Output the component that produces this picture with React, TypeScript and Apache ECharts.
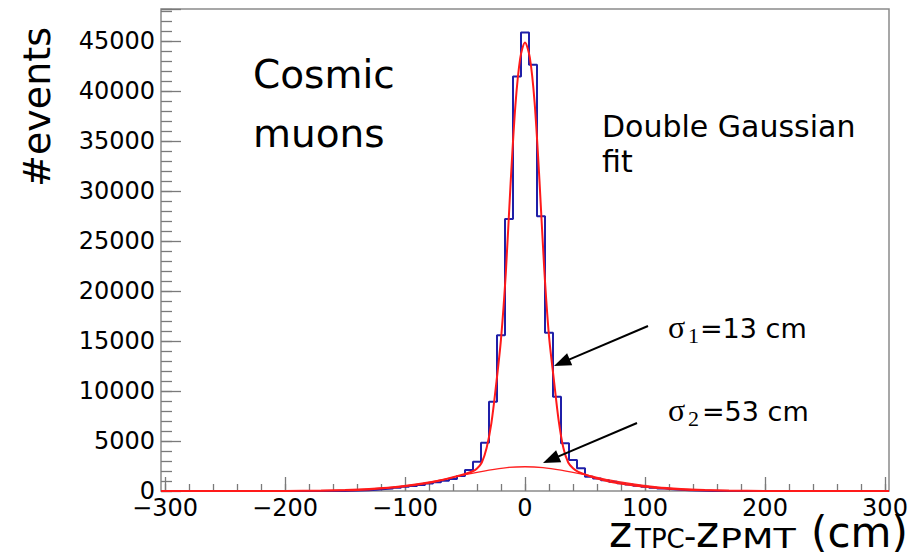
import React, { useEffect, useRef } from "react";
import * as echarts from "echarts";

// ---------- data ----------
const X_MIN = -303.33;
const X_MAX = 303.33;
const Y_MAX = 48250;
const BIN_WIDTH = 600 / 90; // 6.667 cm
const FIRST_BIN_CENTER = -300;

// histogram contents, bins centred at -300 ... +300 cm (91 bins)
const counts: number[] = [
  0, 0, 0, 0, 0, 0, 0, 0, 0, 0, 0, 0, 0, 0, 0, 0, 0, 0, 0, 0, 0, 0, 0,
  20, 50, 80, 120, 190, 250, 330, 420, 510, 610, 740, 880, 1020, 1200, 1500,
  2100, 2930, 4830, 8930, 15600, 27230, 41500,
  45900,
  42670, 27500, 15830, 9430, 4770, 3100, 2270, 1430, 1250, 1080, 930, 780,
  650, 530, 420, 330, 250, 180, 120, 80, 50, 25,
  0, 0, 0, 0, 0, 0, 0, 0, 0, 0, 0, 0, 0, 0, 0, 0, 0, 0, 0, 0, 0, 0, 0,
];

// double Gaussian fit (total)
const fitTotal: [number, number][] = [
  [-303.33, 0], [-250, 0], [-200, 8], [-170, 30], [-150, 70], [-130, 160],
  [-115, 290], [-100, 470], [-85, 720], [-70, 1080], [-60, 1370], [-50, 1700],
  [-44, 1950], [-40, 2250], [-36, 2850], [-32, 4300], [-28, 6800], [-24, 10700],
  [-20, 15200], [-16, 21800], [-12, 30800], [-8, 38600], [-4, 43300], [0, 44900],
  [4, 43400], [8, 38900], [12, 31200], [16, 22300], [20, 15500], [24, 11200],
  [28, 7100], [32, 4300], [36, 2850], [40, 2270], [44, 1950], [50, 1650],
  [60, 1250], [70, 960], [85, 660], [100, 430], [115, 270], [130, 150],
  [150, 70], [170, 30], [200, 8], [250, 0], [303.33, 0],
];

// wide Gaussian component (sigma2)
const fitWide: [number, number][] = [
  [-303.33, 0], [-250, 2], [-200, 18], [-170, 60], [-150, 125], [-130, 230],
  [-110, 400], [-90, 700], [-70, 1110], [-50, 1640], [-30, 2100], [-15, 2350],
  [0, 2430], [15, 2350], [30, 2100], [50, 1640], [70, 1110], [90, 700],
  [110, 400], [130, 230], [150, 125], [170, 60], [200, 18], [250, 2], [303.33, 0],
];

const X_TICK_MIN = -300;
const X_TICK_MAX = 300;
const X_MAJOR = 100;
const X_MINOR = 20;
const Y_MAJOR = 5000;
const Y_MINOR = 1000;

const SANS = "DejaVu Sans";
const SERIF = "Liberation Serif";

function histLine(): [number, number][] {
  const pts: [number, number][] = [];
  counts.forEach((v, i) => {
    const c = FIRST_BIN_CENTER + i * BIN_WIDTH;
    pts.push([c - BIN_WIDTH / 2, v]);
    pts.push([c + BIN_WIDTH / 2, v]);
  });
  return pts;
}

function txt(text: string, x: number, baseline: number, size: number, family: string, extra: any = {}) {
  return {
    type: "text",
    x,
    y: baseline - 0.345 * size,
    z: 100,
    scaleX: extra.scaleX ?? 1,
    style: {
      text,
      x: 0,
      y: 0,
      fill: "#000",
      font: `${size}px "${family}"`,
      align: extra.align ?? "left",
      verticalAlign: "middle",
    },
  };
}

function arrow(x1: number, y1: number, x2: number, y2: number) {
  const dx = x2 - x1;
  const dy = y2 - y1;
  const len = Math.sqrt(dx * dx + dy * dy);
  const ux = dx / len;
  const uy = dy / len;
  const hl = 17;
  const hw = 6.5;
  const bx = x2 - ux * hl;
  const by = y2 - uy * hl;
  return [
    {
      type: "line",
      z: 100,
      shape: { x1, y1, x2: bx + ux * 2, y2: by + uy * 2 },
      style: { stroke: "#000", lineWidth: 2 },
    },
    {
      type: "polygon",
      z: 100,
      shape: {
        points: [
          [x2, y2],
          [bx - uy * hw, by + ux * hw],
          [bx + uy * hw, by - ux * hw],
        ],
      },
      style: { fill: "#000" },
    },
  ];
}

const minus = (v: number) => (v < 0 ? "\u2212" + Math.abs(v) : String(v));

export default function App() {
  const ref = useRef<HTMLDivElement>(null);
  useEffect(() => {
    document.body.style.margin = "0";
    const chart = echarts.init(ref.current!, null, { renderer: "svg" });
    const tickColor = "#7a7a7a";
    const noLine = { show: false, onZero: false };
    const option: any = {
      animation: false,
      backgroundColor: "#fff",
      grid: [
        {
          left: 161, top: 9, width: 728, height: 482,
          show: true, borderColor: "#8a8a8a", borderWidth: 1.5, backgroundColor: "transparent",
        },
        { left: 165, top: 9, width: 720, height: 482, show: false },
      ],
      xAxis: [
        { gridIndex: 0, type: "value", min: X_MIN, max: X_MAX, show: false, axisLine: noLine },
        {
          gridIndex: 1, type: "value", position: "bottom", min: X_TICK_MIN, max: X_TICK_MAX, interval: X_MAJOR,
          axisLine: noLine,
          axisTick: { show: true, inside: true, length: 14, lineStyle: { color: tickColor, width: 1.3 } },
          axisLabel: {
            show: true, margin: 5, color: "#000", fontFamily: SANS, fontSize: 24,
            formatter: (v: number) => (v % X_MAJOR === 0 ? minus(v) : ""),
          },
          splitLine: { show: false },
        },
        {
          gridIndex: 1, type: "value", position: "bottom", min: X_TICK_MIN, max: X_TICK_MAX, interval: X_MINOR,
          axisLine: noLine,
          axisTick: { show: true, inside: true, length: 7, lineStyle: { color: tickColor, width: 1.3 } },
          axisLabel: { show: false },
          splitLine: { show: false },
        },
      ],
      yAxis: [
        {
          gridIndex: 0, type: "value", position: "left", min: 0, max: Y_MAX, interval: Y_MAJOR,
          axisLine: noLine,
          axisTick: { show: true, inside: true, length: 20, lineStyle: { color: tickColor, width: 1.3 } },
          axisLabel: {
            show: true, margin: 6, color: "#000", fontFamily: SANS, fontSize: 24,
            formatter: (v: number) => (v % Y_MAJOR === 0 ? String(v) : ""),
          },
          splitLine: { show: false },
        },
        {
          gridIndex: 0, type: "value", position: "left", min: 0, max: Y_MAX, interval: Y_MINOR,
          axisLine: noLine,
          axisTick: { show: true, inside: true, length: 11, lineStyle: { color: tickColor, width: 1.3 } },
          axisLabel: { show: false },
          splitLine: { show: false },
        },
        { gridIndex: 1, type: "value", min: 0, max: 1, show: false, axisLine: noLine },
      ],
      series: [
        {
          type: "line", xAxisIndex: 0, yAxisIndex: 0, data: histLine(), symbol: "none",
          lineStyle: { color: "#1f1fa8", width: 2 }, z: 2,
        },
        {
          type: "line", xAxisIndex: 0, yAxisIndex: 0, data: fitWide, symbol: "none", smooth: 0.3,
          lineStyle: { color: "#ff2020", width: 1.3 }, z: 3,
        },
        {
          type: "line", xAxisIndex: 0, yAxisIndex: 0, data: fitTotal, symbol: "none", smooth: 0.3,
          lineStyle: { color: "#ff1a1a", width: 2 }, z: 4,
        },
      ],
      graphic: [
        {
          type: "text", x: 37, y: 107, rotation: Math.PI / 2, z: 100,
          style: { text: "#events", fill: "#000", font: `38px "${SANS}"`, align: "center", verticalAlign: "middle" },
        },
        txt("Cosmic", 253, 88, 39, SANS),
        txt("muons", 253, 147, 39, SANS),
        txt("Double Gaussian", 602, 137, 30, SANS),
        txt("fit", 602, 172, 30, SANS),
        txt("\u03c3", 668, 338, 32, SERIF),
        txt("1", 688, 343, 22, SERIF),
        txt("=13 cm", 700, 338, 27, SANS),
        txt("\u03c3", 668, 421, 32, SERIF),
        txt("2", 688, 426, 22, SERIF),
        txt("=53 cm", 702, 421, 27, SANS),
        txt("z", 609, 547, 44, SANS),
        txt("TPC", 635, 548, 26, SANS),
        txt("-", 684, 548, 34, SANS),
        txt("z", 696, 547, 44, SANS),
        txt("PMT", 720, 548, 27, SANS, { scaleX: 1.35 }),
        txt("(cm)", 811, 547, 42, SANS),
        ...arrow(648, 326, 554, 366),
        ...arrow(637, 423, 543, 463),
      ],
    };
    chart.setOption(option);
    return () => chart.dispose();
  }, []);
  return (
    <div
      ref={ref}
      style={{ position: "absolute", left: 0, top: 0, width: 914, height: 558, background: "#fff" }}
    />
  );
}
